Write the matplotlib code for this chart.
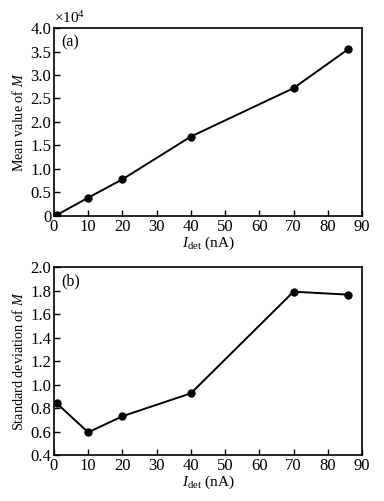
import matplotlib
matplotlib.use('Agg')
import matplotlib.pyplot as plt
from matplotlib.ticker import FuncFormatter, MultipleLocator

# ── DATA
i_det = [0.8, 10, 20, 40, 70, 86]
mean_m = [0.02, 0.39, 0.78, 1.69, 2.72, 3.55]      # x10^4
std_m = [0.84, 0.593, 0.73, 0.925, 1.79, 1.765]

plt.rcParams['font.family'] = 'Liberation Serif'
plt.rcParams['font.size'] = 11
plt.rcParams['mathtext.fontset'] = 'custom'
plt.rcParams['mathtext.it'] = 'Liberation Serif:italic'
plt.rcParams['mathtext.rm'] = 'Liberation Serif'


def fmt(v, pos):
    return '0' if abs(v) < 1e-9 else f'{v:.1f}'


def style(ax):
    for s in ax.spines.values():
        s.set_linewidth(1.2)
    ax.tick_params(direction='in', length=4, width=1, top=False, right=False,
                   labelsize=12, pad=2)
    ax.set_xlim(0, 90)
    ax.xaxis.set_major_locator(MultipleLocator(10))
    ax.set_xlabel(r'$I_{\mathrm{det}}$ (nA)', labelpad=0, fontsize=11)


fig = plt.figure(figsize=(3.84, 5.01), dpi=100)

# ── (a) mean
ax1 = fig.add_axes([0.1406, 0.5689, 0.802, 0.3752])
ax1.plot(i_det, mean_m, color='black', lw=1.4, marker='o', ms=5)
style(ax1)
ax1.set_ylim(0, 4.0)
ax1.yaxis.set_major_locator(MultipleLocator(0.5))
ax1.yaxis.set_major_formatter(FuncFormatter(fmt))
ax1.set_ylabel(r'Mean value of $M$', labelpad=3, fontsize=10.2)
ax1.text(0.025, 0.965, '(a)', transform=ax1.transAxes, va='top', ha='left', fontsize=11.5)
ax1.text(0.0, 1.01, r'$\times$10$^4$', transform=ax1.transAxes, va='bottom', ha='left', fontsize=11)

# ── (b) standard deviation
ax2 = fig.add_axes([0.1406, 0.0918, 0.802, 0.3752])
ax2.plot(i_det, std_m, color='black', lw=1.4, marker='o', ms=5)
style(ax2)
ax2.set_ylim(0.4, 2.0)
ax2.yaxis.set_major_locator(MultipleLocator(0.2))
ax2.yaxis.set_major_formatter(FuncFormatter(fmt))
ax2.set_ylabel(r'Standard deviation of $M$', labelpad=3, fontsize=10.2)
ax2.text(0.025, 0.965, '(b)', transform=ax2.transAxes, va='top', ha='left', fontsize=11.5)

fig.savefig('out.png', dpi=100)
